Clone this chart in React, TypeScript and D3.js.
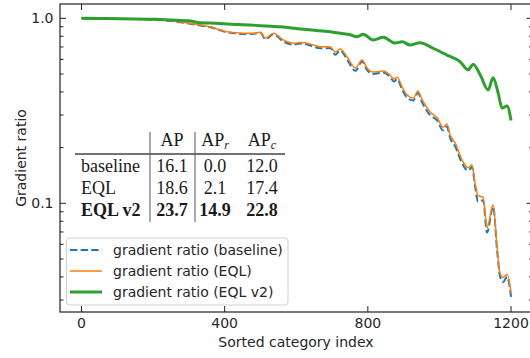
import React from "react";
import * as d3 from "d3";

// ---- data ----
const baseIdx = [0, 67, 150, 207, 276, 332, 360, 385, 407, 430, 452, 480, 500, 514, 536, 564, 592, 610, 631, 650, 667, 695, 709, 723, 742, 765, 784, 798, 815, 843, 862, 873, 882, 896, 910, 927, 940, 952, 974, 994, 1010, 1021, 1030, 1044, 1063, 1080, 1091, 1099, 1108, 1122, 1133, 1150, 1161, 1169, 1178, 1189, 1200];
const eqlValues = [1.0, 0.998, 0.99, 0.985, 0.955, 0.92, 0.9, 0.87, 0.846, 0.835, 0.83, 0.83, 0.84, 0.782, 0.83, 0.763, 0.733, 0.74, 0.733, 0.715, 0.702, 0.702, 0.658, 0.682, 0.618, 0.539, 0.595, 0.539, 0.512, 0.519, 0.494, 0.47, 0.48, 0.425, 0.385, 0.371, 0.405, 0.362, 0.312, 0.289, 0.258, 0.268, 0.234, 0.212, 0.172, 0.156, 0.161, 0.131, 0.11, 0.108, 0.0738, 0.0983, 0.0581, 0.0419, 0.0398, 0.0414, 0.033];
const baselineValues = [1.0, 0.998, 0.99, 0.984, 0.952, 0.915, 0.895, 0.865, 0.84, 0.83, 0.822, 0.825, 0.835, 0.77, 0.82, 0.75, 0.72, 0.73, 0.722, 0.7, 0.69, 0.69, 0.635, 0.67, 0.6, 0.52, 0.585, 0.525, 0.5, 0.51, 0.482, 0.455, 0.47, 0.41, 0.372, 0.36, 0.395, 0.35, 0.3, 0.28, 0.248, 0.26, 0.225, 0.203, 0.165, 0.15, 0.157, 0.126, 0.102, 0.104, 0.0695, 0.096, 0.056, 0.0405, 0.0375, 0.04, 0.0312];
const v2Idx = [0, 67, 150, 207, 250, 299, 332, 374, 420, 472, 500, 530, 555, 580, 611, 650, 695, 723, 750, 770, 787, 815, 843, 876, 896, 918, 946, 982, 1021, 1058, 1080, 1094, 1114, 1136, 1150, 1164, 1175, 1189, 1200];
const eqlV2Values = [1.0, 0.998, 0.99, 0.988, 0.98, 0.97, 0.947, 0.94, 0.93, 0.92, 0.912, 0.905, 0.9, 0.89, 0.875, 0.862, 0.846, 0.83, 0.815, 0.795, 0.82, 0.763, 0.789, 0.735, 0.747, 0.717, 0.738, 0.689, 0.633, 0.582, 0.526, 0.564, 0.494, 0.41, 0.477, 0.395, 0.327, 0.336, 0.28];

const xTicks = [0, 400, 800, 1200];
const yMajorTicks = [0.1, 1.0];
const yTickLabels = ["0.1", "1.0"];

const tableMethods = ["baseline", "EQL", "EQL v2"];
const tableAP = ["16.1", "18.6", "23.7"];
const tableAPr = ["0.0", "2.1", "14.9"];
const tableAPc = ["12.0", "17.4", "22.8"];

const legendLabels = ["gradient ratio (baseline)", "gradient ratio (EQL)", "gradient ratio (EQL v2)"];

export default function App() {
  const W = 530, H = 358;
  const left = 60, right = 532.5, top = 4, bottom = 312;
  const x = d3.scaleLinear().domain([-60, 1260]).range([left, right]);
  const y = d3.scaleLog().domain([0.02585, 1.195]).range([bottom, top]);

  const mk = (idx: number[], vals: number[]) =>
    d3.line<number>().x((_, i) => x(idx[i])).y((v) => y(v)).curve(d3.curveMonotoneX)(vals) || "";

  const allY = y.ticks();
  const isMajor = (t: number) => Math.abs(Math.log10(t) - Math.round(Math.log10(t))) < 1e-6;

  const font = "DejaVu Sans, sans-serif";
  const serif = "Liberation Serif, Times New Roman, serif";
  const txt = "#262626";

  const colC = [172, 215, 262];
  const rowY = [172, 194, 216];

  const legendRows = [
    { color: "#1f77b4", w: 2, dash: "7.4,3.2" },
    { color: "#ff7f0e", w: 1.5, dash: undefined },
    { color: "#2ca02c", w: 3, dash: undefined },
  ];

  return (
    <svg width={W} height={H} style={{ position: "absolute", left: 0, top: 0, background: "#fff" }}>
      <defs>
        <clipPath id="plotclip">
          <rect x={left} y={top} width={right - left} height={bottom - top} />
        </clipPath>
      </defs>
      <rect x={0} y={0} width={W} height={H} fill="#fff" />
      <g clipPath="url(#plotclip)">
        <path d={mk(baseIdx, baselineValues)} fill="none" stroke="#1f77b4" strokeWidth={2} strokeDasharray="7.4,3.2" />
        <path d={mk(baseIdx, eqlValues)} fill="none" stroke="#ff7f0e" strokeWidth={1.5} />
        <path d={mk(v2Idx, eqlV2Values)} fill="none" stroke="#2ca02c" strokeWidth={3} strokeLinejoin="round" />
      </g>

      {/* table */}
      <g fontFamily={serif} fill="#1a1a1a" fontSize={18}>
        <line x1={75} x2={285} y1={154} y2={154} stroke="#444" strokeWidth={1.3} />
        <line x1={150} x2={150} y1={132} y2={222} stroke="#555" strokeWidth={1} />
        <line x1={195} x2={195} y1={132} y2={222} stroke="#555" strokeWidth={1} />
        <text x={colC[0]} y={146} textAnchor="middle">AP</text>
        <text x={colC[1]} y={146} textAnchor="middle">AP<tspan fontStyle="italic" fontSize={12} dy={3}>r</tspan></text>
        <text x={colC[2]} y={146} textAnchor="middle">AP<tspan fontStyle="italic" fontSize={12} dy={3}>c</tspan></text>
        {tableMethods.map((m, i) => (
          <g key={m} fontWeight={i === 2 ? "bold" : "normal"}>
            <text x={81} y={rowY[i]}>{m}</text>
            <text x={colC[0]} y={rowY[i]} textAnchor="middle">{tableAP[i]}</text>
            <text x={colC[1]} y={rowY[i]} textAnchor="middle">{tableAPr[i]}</text>
            <text x={colC[2]} y={rowY[i]} textAnchor="middle">{tableAPc[i]}</text>
          </g>
        ))}
      </g>

      {/* legend */}
      <g fontFamily={font} fontSize={14} fill={txt}>
        <rect x={66.5} y={238} width={221.5} height={67} rx={3} fill="#fff" fillOpacity={0.8} stroke="#d0d0d0" strokeWidth={1} />
        {legendLabels.map((l, i) => {
          const ly = 250 + i * 21;
          return (
            <g key={l}>
              <line x1={70} x2={102} y1={ly} y2={ly} stroke={legendRows[i].color} strokeWidth={legendRows[i].w} strokeDasharray={legendRows[i].dash} />
              <text x={113} y={ly + 5}>{l}</text>
            </g>
          );
        })}
      </g>

      {/* spines */}
      <rect x={left} y={top} width={right - left} height={bottom - top} fill="none" stroke="#222" strokeWidth={1.2} />

      {/* y ticks */}
      {allY.map((t) => {
        const major = isMajor(t);
        const len = major ? 6 : 3.5;
        return (
          <g key={"y" + t} stroke="#222" strokeWidth={1}>
            <line x1={left} x2={left + len} y1={y(t)} y2={y(t)} />
            <line x1={right} x2={right - len} y1={y(t)} y2={y(t)} />
          </g>
        );
      })}
      {yMajorTicks.map((t, i) => (
        <text key={"yl" + t} x={53.5} y={y(t)} dy="0.35em" textAnchor="end" fontFamily={font} fontSize={14} fill={txt}>{yTickLabels[i]}</text>
      ))}

      {/* x ticks */}
      {xTicks.map((t) => (
        <g key={"x" + t}>
          <line x1={x(t)} x2={x(t)} y1={bottom} y2={bottom - 6} stroke="#222" strokeWidth={1} />
          <line x1={x(t)} x2={x(t)} y1={top} y2={top + 6} stroke="#222" strokeWidth={1} />
          <text x={x(t)} y={328} textAnchor="middle" fontFamily={font} fontSize={14} fill={txt}>{t}</text>
        </g>
      ))}

      <text x={296} y={347} textAnchor="middle" fontFamily={font} fontSize={14} fill={txt}>Sorted category index</text>
      <text transform={`translate(26,158) rotate(-90)`} textAnchor="middle" fontFamily={font} fontSize={14} fill={txt}>Gradient ratio</text>
    </svg>
  );
}
